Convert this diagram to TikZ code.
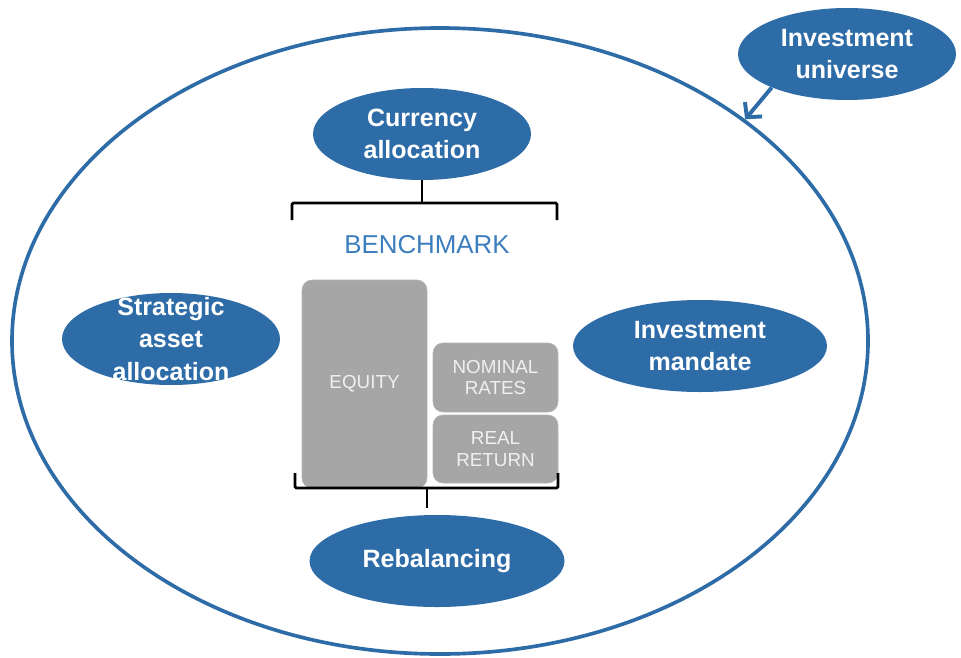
\documentclass[tikz,border=0pt]{standalone}
\usepackage{fontspec}
\setmainfont{Liberation Sans}
\usetikzlibrary{shapes.geometric,arrows.meta}
\definecolor{blobblue}{HTML}{2E6CA8}
\definecolor{markblue}{HTML}{3C7DBE}
\definecolor{boxgrey}{HTML}{A6A6A6}

\begin{document}
\begin{tikzpicture}[
    blob/.style={ellipse, fill=blobblue, minimum width=5.45cm, minimum height=2.3cm, inner sep=0pt},
    blobtext/.style={text=white, align=center, font=\fontsize{17.8}{22.8}\selectfont\bfseries},
    assetbox/.style={draw=boxgrey!85!white, fill=boxgrey, rounded corners=0.25cm, inner sep=0pt, minimum width=3.125cm,
      text=white!94!black, align=center, font=\fontsize{13.4}{15.6}\selectfont},
    bracket/.style={line width=2pt, rounded corners=1pt}
  ]
    \useasboundingbox (0,0) rectangle (24.025,-16.425);

    \node[draw=blobblue, line width=2.6pt, ellipse, minimum width=21.4cm, minimum height=15.65cm] (frame) at (11,-8.525) {};

    \node[blob, label={[blobtext]center:Investment\\universe}] (universe) at (21.175,-1.35) {};
    \node[blob, label={[blobtext]center:Currency\\allocation}] (currency) at (10.55,-3.35) {};
    \node[blob, label={[blobtext]center:Strategic\\asset\\allocation}] (strategic) at (4.275,-8.475) {};
    \node[blob, minimum width=6.35cm, label={[blobtext]center:Investment\\mandate}] (mandate) at (17.5,-8.65) {};
    \node[blob, minimum width=6.375cm, label={[blobtext]center:Rebalancing}] (rebalancing) at (10.925,-14.025) {};

    \node[text=markblue, font=\fontsize{18.4}{20}\selectfont] (benchmark) at (10.675,-6.125) {BENCHMARK};

    \node[assetbox, minimum height=5.2cm] (equity) at (9.1125,-9.6) {EQUITY};
    \node[assetbox, minimum height=1.725cm] (nominal) at (12.3875,-9.4375) {NOMINAL\\RATES};
    \node[assetbox, minimum height=1.7cm] (real) at (12.3875,-11.225) {REAL\\RETURN};

    \draw[bracket] (7.3,-5.5) -- (7.3,-5.075) -- (13.925,-5.075) -- (13.925,-5.5);
    \draw[bracket] (currency.south) -- (currency.south |- 0,-5.075);

    \draw[bracket] (7.375,-11.825) -- (7.375,-12.2) -- (13.95,-12.2) -- (13.95,-11.825);
    \draw[bracket] (10.675,-12.2) -- (10.675,-12.7);

    \draw[-{Straight Barb[length=2.6mm, width=5.6mm]}, draw=blobblue, line width=2.8pt] (universe.204) -- (frame.36);
  \end{tikzpicture}
\end{document}
